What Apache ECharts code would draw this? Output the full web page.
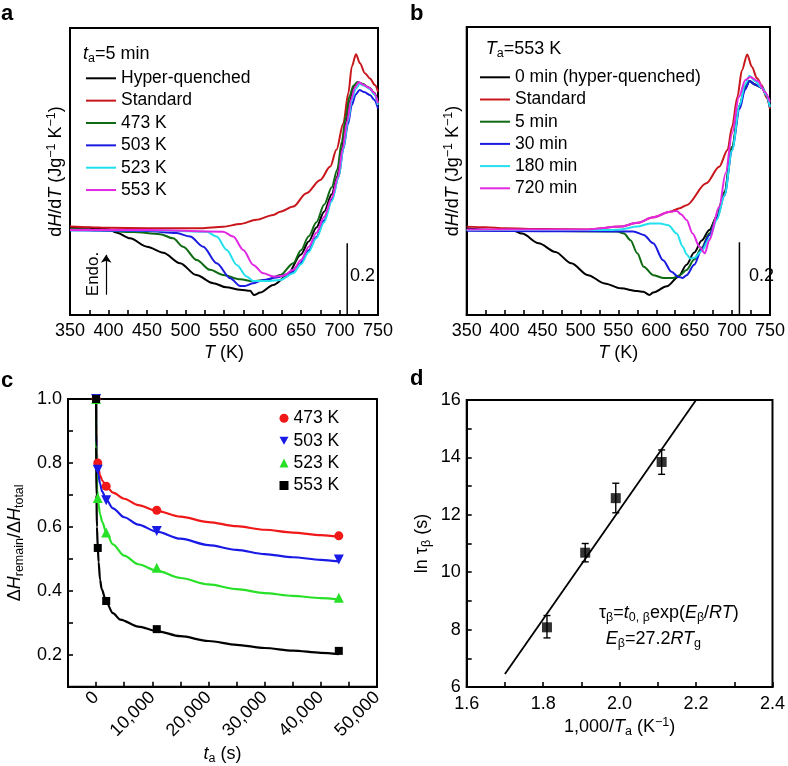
<!DOCTYPE html>
<html><head><meta charset="utf-8">
<script src="https://cdn.jsdelivr.net/npm/echarts/dist/echarts.min.js"></script>
<style>html,body{margin:0;padding:0;background:#fff}#chart{width:788px;height:766px}</style>
</head><body><div id="chart"></div>
<script>
// ---------- Panel a: t_a = 5 min, different annealing temperatures ----------
const aNames = ['Hyper-quenched', 'Standard', '473 K', '503 K', '523 K', '553 K'];
const aHyper = [[350,0.005],[375,0.004],[390,0.001],[400,0.0],[410,-0.009],[428,-0.026],[450,-0.05],[471,-0.067],[493,-0.097],[514,-0.131],[536,-0.154],[553,-0.166],[571,-0.173],[584,-0.176],[589,-0.188],[597,-0.181],[614,-0.159],[631,-0.135],[650,-0.072],[660,-0.035],[670,0.005],[680,0.05],[690,0.1],[697,0.15],[703,0.23],[709,0.31],[714,0.37],[719,0.41],[724,0.42],[730,0.415],[738,0.405],[745,0.39],[750,0.36]];
const aStandard = [[350,0.008],[375,0.006],[400,0.004],[450,0.003],[500,0.003],[520,0.003],[549,0.007],[571,0.015],[592,0.027],[614,0.041],[623,0.05],[640,0.065],[657,0.103],[675,0.141],[688,0.179],[696,0.227],[705,0.303],[711.5,0.389],[716,0.465],[721.4,0.5],[726.6,0.474],[733,0.446],[739.6,0.431],[746,0.412],[750,0.393]];
const a473 = [[350,0.0],[389,-0.003],[432,-0.008],[467,-0.014],[484,-0.026],[497,-0.05],[514.5,-0.088],[532,-0.116],[549,-0.131],[571,-0.143],[587,-0.148],[605.5,-0.145],[623,-0.131],[640,-0.097],[650,-0.06],[660,-0.02],[670,0.02],[680,0.07],[690,0.12],[697,0.17],[703,0.25],[708,0.32],[713,0.38],[718,0.41],[723,0.42],[730,0.415],[738,0.405],[745,0.39],[750,0.36]];
const a503 = [[350,-0.003],[400,-0.004],[450,-0.005],[488.5,-0.011],[506,-0.021],[523,-0.05],[540.5,-0.097],[558,-0.14],[571,-0.162],[577,-0.162],[588,-0.154],[601,-0.145],[618,-0.138],[636,-0.126],[648,-0.1],[660,-0.06],[670,-0.022],[680,0.025],[690,0.085],[699,0.15],[705,0.23],[711,0.3],[716,0.355],[721,0.385],[726,0.398],[732,0.392],[740,0.383],[745,0.37],[750,0.345]];
const a523 = [[350,-0.003],[450,-0.003],[527.5,-0.007],[540.5,-0.021],[553.5,-0.059],[566.5,-0.102],[579.5,-0.135],[588,-0.148],[605.5,-0.148],[623,-0.145],[640,-0.126],[650,-0.1],[660,-0.065],[670,-0.025],[680,0.02],[690,0.08],[699,0.15],[705,0.23],[711,0.31],[716,0.37],[721,0.4],[726,0.415],[732,0.41],[740,0.4],[745,0.385],[750,0.355]];
const a553 = [[350,-0.002],[450,-0.002],[549,-0.007],[562,-0.021],[575,-0.059],[588,-0.102],[601,-0.126],[614,-0.135],[627,-0.133],[640,-0.116],[650,-0.088],[660,-0.05],[670,-0.01],[680,0.035],[690,0.09],[698,0.15],[704,0.23],[710,0.31],[715,0.37],[720,0.405],[725,0.42],[731,0.413],[738,0.405],[745,0.39],[750,0.36]];
const aScaleBar = [[710,-0.04],[710,-0.245]];
const aEndoArrow = [[397,-0.187],[397,-0.073]];

// ---------- Panel b: T_a = 553 K, different annealing times ----------
const bNames = ['0 min (hyper-quenched)', 'Standard\u00a0', '5 min', '30 min', '180 min', '720 min'];
const bHyper = [[350,0.005],[380,0.0],[410,0.0],[423,-0.01],[445,-0.038],[467,-0.063],[488,-0.096],[510,-0.13],[532,-0.154],[553,-0.168],[575,-0.176],[583,-0.178],[591,-0.187],[596,-0.18],[614,-0.162],[629,-0.135],[640,-0.1],[650,-0.065],[660,-0.03],[670,0.0],[680,0.04],[690,0.11],[700,0.24],[710,0.36],[717,0.41],[723,0.43],[730,0.42],[740,0.41],[745,0.39],[750,0.355]];
const bStandard = [[350,0.01],[375,0.008],[400,0.005],[450,0.003],[510,0.002],[553,0.01],[575,0.021],[596,0.037],[618,0.053],[631,0.063],[640,0.072],[666,0.135],[683,0.183],[694,0.231],[700,0.298],[707,0.384],[713,0.461],[720,0.507],[726,0.471],[733,0.438],[739,0.418],[746,0.38],[750,0.35]];
const b5min = [[350,0.0],[450,-0.002],[549,-0.004],[557.5,-0.01],[566,-0.029],[575,-0.067],[583.5,-0.106],[596,-0.13],[609,-0.138],[622,-0.138],[631,-0.13],[640,-0.115],[650,-0.085],[660,-0.05],[670,-0.01],[680,0.04],[690,0.11],[700,0.24],[710,0.36],[717,0.41],[723,0.43],[730,0.42],[740,0.41],[745,0.39],[750,0.355]];
const b30min = [[350,-0.002],[450,-0.003],[570,-0.004],[583.5,-0.014],[596,-0.038],[609,-0.087],[620,-0.12],[629,-0.135],[635,-0.138],[640,-0.13],[650,-0.1],[660,-0.055],[670,-0.015],[680,0.035],[690,0.1],[700,0.23],[710,0.35],[717,0.405],[723,0.43],[730,0.42],[740,0.41],[745,0.39],[750,0.355]];
const b180min = [[350,0.0],[450,0.0],[540,0.0],[553,0.002],[575,0.01],[592,0.019],[605,0.019],[616,0.014],[627,-0.01],[635,-0.048],[640,-0.07],[645,-0.082],[650,-0.08],[660,-0.06],[670,-0.025],[680,0.03],[690,0.1],[700,0.23],[710,0.36],[717,0.42],[723,0.445],[730,0.43],[740,0.41],[745,0.39],[750,0.355]];
const b720min = [[350,0.002],[450,0.002],[510,0.002],[553,0.01],[575,0.021],[596,0.037],[618,0.053],[627,0.055],[633,0.045],[640,0.029],[648,-0.01],[657,-0.048],[664,-0.067],[670,-0.029],[683,0.067],[691.5,0.164],[700,0.279],[709,0.384],[717.5,0.433],[724,0.442],[734,0.43],[743,0.399],[750,0.37]];
const bScaleBar = [[709.7,-0.035],[709.7,-0.245]];

// ---------- Panel c: remaining enthalpy vs annealing time ----------
const cNames = ['473\u00a0K', '503\u00a0K', '523\u00a0K', '553\u00a0K'];
const c473 = [[0,1.0],[300,0.80],[1800,0.727],[10800,0.652],[43200,0.572]];
const c503 = [[0,1.0],[300,0.779],[1800,0.683],[10800,0.587],[43200,0.498]];
const c523 = [[0,1.0],[300,0.69],[1800,0.582],[10800,0.472],[43200,0.378]];
const c553 = [[0,1.0],[300,0.534],[1800,0.368],[10800,0.28],[43200,0.212]];
const c473Fit = [[0,1.0],[20,0.93],[80,0.86],[200,0.815],[400,0.785],[700,0.762],[1100,0.745],[1800,0.727],[3000,0.707],[5000,0.688],[7500,0.668],[10800,0.65],[15000,0.632],[20000,0.615],[25000,0.602],[30000,0.591],[35000,0.582],[40000,0.574],[43200,0.569]];
const c503Fit = [[0,1.0],[20,0.9],[80,0.83],[200,0.795],[400,0.765],[700,0.735],[1100,0.71],[1800,0.685],[3000,0.658],[5000,0.63],[7500,0.607],[10800,0.585],[15000,0.563],[20000,0.543],[25000,0.528],[30000,0.515],[35000,0.505],[40000,0.497],[43200,0.492]];
const c523Fit = [[0,1.0],[20,0.87],[80,0.77],[200,0.715],[400,0.675],[700,0.64],[1100,0.615],[1800,0.583],[3000,0.545],[5000,0.51],[7500,0.483],[10800,0.463],[15000,0.44],[20000,0.42],[25000,0.405],[30000,0.393],[35000,0.384],[40000,0.377],[43200,0.373]];
const c553Fit = [[0,1.0],[15,0.85],[60,0.7],[150,0.6],[300,0.535],[450,0.49],[700,0.435],[1000,0.405],[1800,0.365],[3000,0.33],[4300,0.31],[7500,0.288],[10800,0.274],[15000,0.258],[20000,0.243],[25000,0.231],[30000,0.221],[35000,0.213],[40000,0.206],[43200,0.202]];

// ---------- Panel d: Arrhenius plot ----------
const dInvT = [1.81, 1.91, 1.99, 2.11];
const dLnTau = [8.08, 10.68, 12.58, 13.84];
const dErrLow = [7.71, 10.36, 12.07, 13.41];
const dErrHigh = [8.49, 11.0, 13.1, 14.26];
const dFit = [[1.7,6.45],[2.2,16.0]];

// ---------- styling ----------
const FONT = '"Liberation Sans", Arial, Helvetica, sans-serif';
const FS = 18;
const rich = {
  i: {fontStyle:'italic', fontSize:FS, fontFamily:FONT, color:'#000', fill:'#000', lineHeight:22},
  sub: {fontSize:12.5, fontFamily:FONT, color:'#000', fill:'#000', verticalAlign:'bottom', lineHeight:10},
  sup: {fontSize:12.5, fontFamily:FONT, color:'#000', fill:'#000', verticalAlign:'top', lineHeight:13}
};
const nameStyle = {fontSize:FS, fontFamily:FONT, color:'#000', lineHeight:22, rich: rich};
const mkTick = () => ({show:true, inside:true, length:5, lineStyle:{color:'#000', width:1.6}});
const mkLine = () => ({show:true, onZero:false, lineStyle:{color:'#000', width:2}});
const labelStyle = {color:'#000', fontSize:FS, fontFamily:FONT, showMinLabel:true, showMaxLabel:true};
const DSC_COL = ['#000000', '#c8161c', '#0f6a14', '#1a1ae0', '#22e0ee', '#e228e2'];
const C_COL = ['#f01818', '#1a1ae6', '#28e028', '#000000'];

function dscX(idx) {
  return {type:'value', gridIndex:idx, min:350, max:750, interval:25,
    axisLine:mkLine(), splitLine:{show:false}, axisTick:mkTick(),
    axisLabel:Object.assign({margin:7, formatter:(v)=> (Math.round(v) % 50 === 0 ? String(Math.round(v)) : '')}, labelStyle),
    name:'{i|T} (K)', nameLocation:'middle', nameGap:27, nameTextStyle:nameStyle};
}
function dscY(idx, max) {
  return {type:'value', gridIndex:idx, min:-0.245, max:max,
    axisLine:mkLine(), splitLine:{show:false}, axisTick:{show:false}, axisLabel:{show:false},
    name:'d{i|H}/d{i|T} (Jg{sup|−1} K{sup|−1})', nameLocation:'middle', nameGap:3, nameTextStyle:nameStyle};
}
function dscLine(name, data, color, idx) {
  return {type:'line', name:name, xAxisIndex:idx, yAxisIndex:idx, data:data, showSymbol:false, symbol:'none',
    smooth:0.3, smoothMonotone:'x', lineStyle:{color:color, width:2}, itemStyle:{color:color}, silent:true};
}

const aData = [aHyper, aStandard, a473, a503, a523, a553];
const bData = [bHyper, bStandard, b5min, b30min, b180min, b720min];
const cData = [c473, c503, c523, c553];
const cFits = [c473Fit, c503Fit, c523Fit, c553Fit];
const cSymbols = ['circle', 'path://M0,0L2,0L1,1.75Z', 'triangle', 'rect'];
const cSizes = [9, 10, 10, 8];

const series = [];
aData.forEach((d, i) => series.push(dscLine(aNames[i], d, DSC_COL[i], 0)));
series.push({type:'line', xAxisIndex:0, yAxisIndex:0, data:aScaleBar, symbol:'none', silent:true,
  lineStyle:{color:'#000', width:1.5},
  markLine:{silent:true, symbol:['none','arrow'], symbolSize:8, label:{show:false},
    lineStyle:{color:'#000', width:1.2, type:'solid'},
    data:[[{coord:aEndoArrow[0], symbol:'none'}, {coord:aEndoArrow[1], symbol:'arrow', symbolSize:8}]]}});
bData.forEach((d, i) => series.push(dscLine(bNames[i], d, DSC_COL[i], 1)));
series.push({type:'line', xAxisIndex:1, yAxisIndex:1, data:bScaleBar, symbol:'none', silent:true, lineStyle:{color:'#000', width:1.5}});
cFits.forEach((d, i) => series.push({type:'line', name:'fit'+i, xAxisIndex:2, yAxisIndex:2, data:d, symbol:'none',
  smooth:0.3, smoothMonotone:'x', lineStyle:{color:C_COL[i], width:2.2}, silent:true}));
cData.forEach((d, i) => series.push({type:'scatter', name:cNames[i], xAxisIndex:2, yAxisIndex:2, data:d,
  symbol:cSymbols[i], symbolSize:cSizes[i], itemStyle:{color:C_COL[i], opacity:1}, silent:true, z:5}));
series.push({type:'line', name:'dfit', xAxisIndex:3, yAxisIndex:3, data:dFit, symbol:'none', lineStyle:{color:'#000', width:1.8}, silent:true});
series.push({type:'custom', name:'derr', xAxisIndex:3, yAxisIndex:3, silent:true,
  data:dInvT.map((x, i) => [x, dErrLow[i], dErrHigh[i]]), encode:{x:0, y:[1,2]},
  renderItem:(params, api) => {
    const lo = api.coord([api.value(0), api.value(1)]);
    const hi = api.coord([api.value(0), api.value(2)]);
    const w = 3.5, st = {stroke:'#000', lineWidth:1.4};
    return {type:'group', children:[
      {type:'line', shape:{x1:lo[0], y1:lo[1], x2:hi[0], y2:hi[1]}, style:st},
      {type:'line', shape:{x1:lo[0]-w, y1:lo[1], x2:lo[0]+w, y2:lo[1]}, style:st},
      {type:'line', shape:{x1:hi[0]-w, y1:hi[1], x2:hi[0]+w, y2:hi[1]}, style:st}]};
  }});
series.push({type:'scatter', name:'dpts', xAxisIndex:3, yAxisIndex:3, data:dInvT.map((x, i) => [x, dLnTau[i]]),
  symbol:'rect', symbolSize:10, itemStyle:{color:'#000'}, silent:true, z:5});

function gtext(x, y, text, extra, rot) {
  const el = {type:'text', x:x, y:y, silent:true,
    style:Object.assign({text:text, fill:'#000', fontSize:FS, fontFamily:FONT, lineHeight:22, rich:rich,
      align:'left', verticalAlign:'middle'}, extra || {})};
  if (rot) el.rotation = rot;
  return el;
}
const letter = (x, y, t) => ({type:'text', x:x, y:y, silent:true,
  style:{text:t, fill:'#000', font:'bold 22px ' + FONT, verticalAlign:'middle', align:'left'}});

const legendCommon = {orient:'vertical', padding:0, selectedMode:false,
  textStyle:{color:'#000', fontSize:17.5, fontFamily:FONT, lineHeight:18}};

const option = {
  animation:false,
  backgroundColor:'#fff',
  grid:[
    {left:70, top:28, width:308, height:287, show:true, borderColor:'#000', borderWidth:2},
    {left:466.7, top:27, width:308.3, height:288, show:true, borderColor:'#000', borderWidth:2},
    {left:68, top:399, width:309, height:288, show:true, borderColor:'#000', borderWidth:2},
    {left:466.7, top:400, width:308.3, height:287, show:true, borderColor:'#000', borderWidth:2}
  ],
  xAxis:[
    dscX(0), dscX(1),
    {type:'value', gridIndex:2, min:-5000, max:50000, interval:5000,
      axisLine:mkLine(), splitLine:{show:false}, axisTick:mkTick(),
      axisLabel:Object.assign({margin:8, rotate:45, formatter:(v)=> (Math.round(v) % 10000 === 0 ? Math.round(v).toLocaleString('en-US') : '')}, labelStyle),
      name:'{i|t}{sub|a} (s)', nameLocation:'middle', nameGap:56, nameTextStyle:nameStyle},
    {type:'value', gridIndex:3, min:1.6, max:2.4, interval:0.1,
      axisLine:mkLine(), splitLine:{show:false}, axisTick:mkTick(),
      axisLabel:Object.assign({margin:8, formatter:(v)=>{const k=Math.round(v*10); return k%2===0 ? (k/10).toFixed(1) : '';}}, labelStyle),
      name:'1,000/{i|T}{sub|a} (K{sup|−1})', nameLocation:'middle', nameGap:29, nameTextStyle:nameStyle}
  ],
  yAxis:[
    dscY(0, 0.575), dscY(1, 0.586),
    {type:'value', gridIndex:2, min:0.1, max:1.0, interval:0.1,
      axisLine:mkLine(), splitLine:{show:false}, axisTick:mkTick(),
      axisLabel:Object.assign({margin:6, formatter:(v)=>{const k=Math.round(v*10); return k%2===0 ? (k/10).toFixed(1) : '';}}, labelStyle),
      name:'Δ{i|H}{sub|remain}/Δ{i|H}{sub|total}', nameLocation:'middle', nameGap:42, nameTextStyle:nameStyle},
    {type:'value', gridIndex:3, min:6, max:16, interval:1,
      axisLine:mkLine(), splitLine:{show:false}, axisTick:mkTick(),
      axisLabel:Object.assign({margin:6, formatter:(v)=>{const k=Math.round(v); return k%2===0 ? String(k) : '';}}, labelStyle),
      name:'ln τ{sub|β} (s)', nameLocation:'middle', nameGap:34, nameTextStyle:nameStyle}
  ],
  legend:[
    Object.assign({}, legendCommon, {left:86, top:69.3, itemWidth:30, itemHeight:2, itemGap:4.35, icon:'rect', data:aNames}),
    Object.assign({}, legendCommon, {left:480, top:68.3, itemWidth:30, itemHeight:2, itemGap:4.2, icon:'rect', data:bNames}),
    Object.assign({}, legendCommon, {left:279.5, top:409.3, itemWidth:9, itemHeight:9, itemGap:4.4, data:cNames,
      textStyle:{color:'#000', fontSize:17.5, fontFamily:FONT, lineHeight:18}})
  ],
  graphic:[
    letter(1, 14, 'a'), letter(410, 14, 'b'), letter(1, 381, 'c'), letter(410, 379, 'd'),
    gtext(83, 54, '{i|t}{sub|a}=5 min'),
    gtext(485.7, 49, '{i|T}{sub|a}=553 K'),
    gtext(93, 274, 'Endo.', {align:'center', fontSize:17}, Math.PI / 2),
    gtext(350, 276, '0.2'),
    gtext(749, 276, '0.2'),
    gtext(599, 613, 'τ{sub|β}={i|t}{sub|0, β}exp({i|E}{sub|β}/{i|RT})'),
    gtext(605.7, 639, '{i|E}{sub|β}=27.2{i|RT}{sub|g}')
  ],
  series:series
};

const chart = echarts.init(document.getElementById('chart'), null, {renderer:'canvas'});
chart.setOption(option);
</script></body></html>
